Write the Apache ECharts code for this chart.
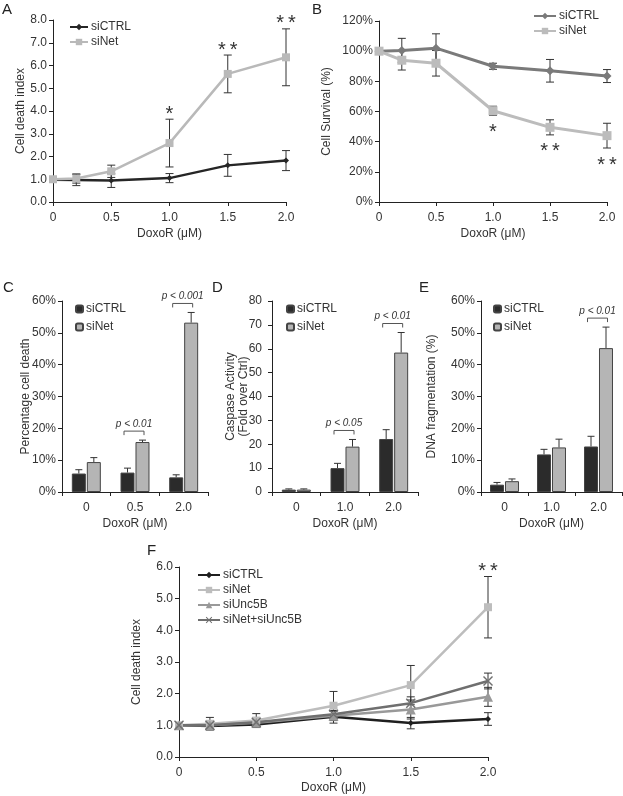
<!DOCTYPE html>
<html><head><meta charset="utf-8">
<script src="https://cdn.jsdelivr.net/npm/echarts@6/dist/echarts.min.js"></script>
<style>html,body{margin:0;padding:0;background:#fff}#c{width:623px;height:796px}</style>
</head><body><div id="c"></div>
<script>
// ---------------- data ----------------
const doseLine = [0, 0.2, 0.5, 1.0, 1.5, 2.0];

// Panel A: cell death index
const aCtrl = [0.98, 0.97, 0.94, 1.05, 1.61, 1.82];
const aCtrlErr = [0, 0.25, 0.3, 0.2, 0.48, 0.44];
const aNet = [1.0, 1.03, 1.35, 2.59, 5.63, 6.36];
const aNetErr = [0, 0.2, 0.27, 1.05, 0.83, 1.25];
const aStars = ['', '', '', '*', '**', '**'];

// Panel B: cell survival (%)
const bCtrl = [100, 100.5, 102, 90, 87, 83.5];
const bCtrlErr = [0, 8, 9.5, 2, 7.5, 4.3];
const bNet = [100, 94, 92, 60.5, 49.5, 44];
const bNetErr = [0, 6.5, 8.5, 3, 5, 8.2];
const bStars = ['', '', '', '*', '**', '**'];

// Panel C: percentage cell death
const cCats = ['0', '0.5', '2.0'];
const cCtrl = [5.8, 6.1, 4.6];
const cCtrlErr = [1.2, 1.4, 0.8];
const cNet = [9.4, 15.7, 53.2];
const cNetErr = [1.4, 0.6, 3.2];
const cP = ['', 'p < 0.01', 'p < 0.001'];

// Panel D: caspase activity
const dCats = ['0', '1.0', '2.0'];
const dCtrl = [1, 10, 22.2];
const dCtrlErr = [0.3, 2, 3.9];
const dNet = [1, 19, 58.4];
const dNetErr = [0.3, 3, 8.4];
const dP = ['', 'p < 0.05', 'p < 0.01'];

// Panel E: DNA fragmentation
const eCats = ['0', '1.0', '2.0'];
const eCtrl = [2.3, 11.8, 14.3];
const eCtrlErr = [0.7, 1.6, 3.2];
const eNet = [3.4, 14.0, 45.2];
const eNetErr = [0.7, 2.6, 6.6];
const eP = ['', '', 'p < 0.01'];

// Panel F: cell death index, 4 conditions
const fCtrl = [1.0, 0.98, 1.03, 1.27, 1.07, 1.2];
const fCtrlErr = [0, 0.1, 0.08, 0.2, 0.18, 0.2];
const fNet = [1.0, 1.05, 1.15, 1.62, 2.27, 4.73];
const fNetErr = [0, 0.2, 0.22, 0.45, 0.62, 0.97];
const fUnc = [1.0, 1.0, 1.08, 1.3, 1.5, 1.9];
const fUncErr = [0, 0.1, 0.12, 0.15, 0.3, 0.3];
const fBoth = [1.0, 1.0, 1.1, 1.35, 1.7, 2.4];
const fBothErr = [0, 0.1, 0.1, 0.1, 0.2, 0.25];
const fStars = ['', '', '', '', '', '**'];

// ---------------- helpers ----------------
const FONT = '"Liberation Sans", Arial, sans-serif';
const TXT = '#333';
const ERR = '#333';

function pairs(xs, ys) { return xs.map((x, i) => [x, ys[i]]); }

function lineSeries(idx, name, ys, color, symbol, size, width) {
  return {
    type: 'line', name: name, xAxisIndex: idx, yAxisIndex: idx, z: 3,
    data: pairs(doseLine, ys), symbol: symbol, symbolSize: size,
    lineStyle: { color: color, width: width || 2.5 },
    itemStyle: { color: color, borderColor: color, borderWidth: 0 },
    emphasis: { disabled: true }, animation: false
  };
}

function lineErr(idx, ys, es) {
  return {
    type: 'custom', xAxisIndex: idx, yAxisIndex: idx, z: 2, silent: true, animation: false,
    data: doseLine.map((x, i) => [x, ys[i], es[i]]),
    renderItem(params, api) {
      const x = api.value(0), y = api.value(1), e = api.value(2);
      if (!e) return null;
      const p1 = api.coord([x, y + e]), p2 = api.coord([x, y - e]), w = 4;
      const st = { stroke: ERR, lineWidth: 1 };
      return { type: 'group', children: [
        { type: 'line', shape: { x1: p1[0], y1: p1[1], x2: p2[0], y2: p2[1] }, style: st },
        { type: 'line', shape: { x1: p1[0] - w, y1: p1[1], x2: p1[0] + w, y2: p1[1] }, style: st },
        { type: 'line', shape: { x1: p2[0] - w, y1: p2[1], x2: p2[0] + w, y2: p2[1] }, style: st }
      ]};
    }
  };
}

function stars(idx, ys, es, labels, dir) {
  // dir = 1 : above upper cap ; dir = -1 : below lower cap
  return {
    type: 'custom', xAxisIndex: idx, yAxisIndex: idx, z: 5, silent: true, animation: false,
    data: doseLine.map((x, i) => [x, ys[i], es[i]]),
    renderItem(params, api) {
      const t = labels[params.dataIndex];
      if (!t) return null;
      const x = api.value(0), y = api.value(1), e = api.value(2);
      const p = api.coord([x, y + dir * e]);
      const yy = dir > 0 ? p[1] + 5 : p[1] + 27;
      return { type: 'text', style: { x: p[0], y: yy, text: t.split('').join('\u2009'), fill: '#333',
        font: '20px ' + FONT, textAlign: 'center', textVerticalAlign: 'bottom' } };
    }
  };
}

function barSeries(idx, name, ys, color) {
  return {
    type: 'bar', name: name, xAxisIndex: idx, yAxisIndex: idx, z: 3, data: ys,
    barWidth: 14, barGap: '7%',
    itemStyle: { color: color, borderColor: '#444', borderWidth: 1 },
    emphasis: { disabled: true }, animation: false
  };
}

function barErr(idx, ys, es, side) {
  return {
    type: 'custom', xAxisIndex: idx, yAxisIndex: idx, z: 2, silent: true, animation: false,
    data: ys.map((y, i) => [i, y, es[i]]),
    renderItem(params, api) {
      const c = api.value(0), y = api.value(1), e = api.value(2);
      const p1 = api.coord([c, y + e]), p2 = api.coord([c, y]);
      const x = p1[0] + side * 7.5, w = 3.5;
      const st = { stroke: ERR, lineWidth: 1 };
      return { type: 'group', children: [
        { type: 'line', shape: { x1: x, y1: p1[1], x2: x, y2: p2[1] }, style: st },
        { type: 'line', shape: { x1: x - w, y1: p1[1], x2: x + w, y2: p1[1] }, style: st }
      ]};
    }
  };
}

function brackets(idx, c1, e1, c2, e2, labels) {
  return {
    type: 'custom', xAxisIndex: idx, yAxisIndex: idx, z: 5, silent: true, animation: false,
    data: c1.map((y, i) => [i, Math.max(y + e1[i], c2[i] + e2[i])]),
    renderItem(params, api) {
      const t = labels[params.dataIndex];
      if (!t) return null;
      const p = api.coord([api.value(0), api.value(1)]);
      const top = p[1] - 9, l = p[0] - 11, r = p[0] + 9;
      return { type: 'group', children: [
        { type: 'polyline', shape: { points: [[l, top + 4], [l, top], [r, top], [r, top + 4]] },
          style: { stroke: '#555', lineWidth: 1, fill: null } },
        { type: 'text', style: { x: (l + r) / 2, y: top - 2, text: t, fill: '#333',
          font: 'italic 10px ' + FONT, textAlign: 'center', textVerticalAlign: 'bottom' } }
      ]};
    }
  };
}

const axLine = { show: true, lineStyle: { color: '#222', width: 1 } };
const axTick = { show: true, length: 4, lineStyle: { color: '#222' } };
const axLab = { color: TXT, fontSize: 12, fontFamily: FONT };
const nameStyle = { color: TXT, fontSize: 12, fontFamily: FONT };

function xValAxis(idx, gap) {
  return { type: 'value', gridIndex: idx, min: 0, max: 2, interval: 0.5,
    axisLine: axLine, axisTick: axTick, splitLine: { show: false },
    axisLabel: Object.assign({ margin: 10, formatter: v => v === 0 ? '0' : v.toFixed(1) }, axLab),
    name: 'DoxoR (\u03bcM)', nameLocation: 'middle', nameGap: gap, nameTextStyle: nameStyle };
}
function xCatAxis(idx, cats) {
  return { type: 'category', gridIndex: idx, data: cats,
    axisLine: axLine, axisTick: axTick, splitLine: { show: false },
    axisLabel: Object.assign({ margin: 10 }, axLab),
    name: 'DoxoR (\u03bcM)', nameLocation: 'middle', nameGap: 26, nameTextStyle: nameStyle };
}
function yAxis(idx, max, interval, fmt, name, gap, margin) {
  return { type: 'value', gridIndex: idx, min: 0, max: max, interval: interval,
    axisLine: axLine, axisTick: axTick, splitLine: { show: false },
    axisLabel: Object.assign({ margin: margin || 6, formatter: fmt }, axLab),
    nameMoveOverlap: false,
    name: name, nameLocation: 'middle', nameGap: gap, nameTextStyle: Object.assign({ lineHeight: 13 }, nameStyle) };
}
const f1 = v => v.toFixed(1);
const fPct = v => v + '%';
const fInt = v => String(v);

function legend(left, top, names, iw, ih, gap) {
  return { left: left, top: top, orient: 'vertical', itemWidth: iw, itemHeight: ih, itemGap: gap,
    padding: 0, data: names, selectedMode: false,
    formatter: n => n.split(':')[1],
    textStyle: { color: TXT, fontSize: 12, fontFamily: FONT, padding: [0, 0, 0, -2] } };
}

const option = {
  backgroundColor: '#fff',
  animation: false,
  textStyle: { fontFamily: FONT },
  grid: [
    { left: 53, top: 20, width: 233, height: 182 },   // A
    { left: 379, top: 21, width: 228, height: 181 },  // B
    { left: 62, top: 301, width: 146, height: 191 },  // C
    { left: 272, top: 301, width: 146, height: 191 }, // D
    { left: 481, top: 301, width: 141, height: 191 }, // E
    { left: 179, top: 567, width: 309, height: 190 }  // F
  ],
  xAxis: [
    xValAxis(0, 26), xValAxis(1, 26),
    xCatAxis(2, cCats), xCatAxis(3, dCats), xCatAxis(4, eCats),
    xValAxis(5, 25)
  ],
  yAxis: [
    yAxis(0, 8, 1, f1, 'Cell death index', 26),
    yAxis(1, 120, 20, fPct, 'Cell Survival (%)', 46),
    yAxis(2, 60, 10, fPct, 'Percentage cell death', 30),
    yAxis(3, 80, 10, fInt, 'Caspase Activity\n(Fold over Ctrl)', 22, 10),
    yAxis(4, 60, 10, fPct, 'DNA fragmentation (%)', 43),
    yAxis(5, 6, 1, f1, 'Cell death index', 36)
  ],
  legend: [
    legend(69, 21, ['A:siCTRL', 'A:siNet'], 18, 8, 3),
    legend(533, 10, ['B:siCTRL', 'B:siNet'], 22, 8, 3),
    legend(75, 303, ['C:siCTRL', 'C:siNet'], 7, 7, 6),
    legend(286, 303, ['D:siCTRL', 'D:siNet'], 7, 7, 6),
    legend(493, 303, ['E:siCTRL', 'E:siNet'], 7, 7, 6),
    legend(197, 569, ['F:siCTRL', 'F:siNet', 'F:siUnc5B', 'F:siNet+siUnc5B'], 22, 8, 3)
  ],
  graphic: [
    { type: 'text', left: 2, top: 2, style: { text: 'A', font: '15px ' + FONT, fill: '#222' } },
    { type: 'text', left: 312, top: 2, style: { text: 'B', font: '15px ' + FONT, fill: '#222' } },
    { type: 'text', left: 3, top: 280, style: { text: 'C', font: '15px ' + FONT, fill: '#222' } },
    { type: 'text', left: 212, top: 280, style: { text: 'D', font: '15px ' + FONT, fill: '#222' } },
    { type: 'text', left: 419, top: 280, style: { text: 'E', font: '15px ' + FONT, fill: '#222' } },
    { type: 'text', left: 147, top: 543, style: { text: 'F', font: '15px ' + FONT, fill: '#222' } }
  ],
  series: [
    // A
    lineErr(0, aCtrl, aCtrlErr), lineErr(0, aNet, aNetErr),
    lineSeries(0, 'A:siCTRL', aCtrl, '#262626', 'diamond', 6, 2.5),
    lineSeries(0, 'A:siNet', aNet, '#b9b9b9', 'rect', 8, 2.5),
    stars(0, aNet, aNetErr, aStars, 1),
    // B
    lineErr(1, bCtrl, bCtrlErr), lineErr(1, bNet, bNetErr),
    lineSeries(1, 'B:siCTRL', bCtrl, '#7a7a7a', 'diamond', 9, 3),
    lineSeries(1, 'B:siNet', bNet, '#bcbcbc', 'rect', 9, 3),
    stars(1, bNet, bNetErr, bStars, -1),
    // C
    barSeries(2, 'C:siCTRL', cCtrl, '#2b2b2b'), barSeries(2, 'C:siNet', cNet, '#b5b5b5'),
    barErr(2, cCtrl, cCtrlErr, -1), barErr(2, cNet, cNetErr, 1),
    brackets(2, cCtrl, cCtrlErr, cNet, cNetErr, cP),
    // D
    barSeries(3, 'D:siCTRL', dCtrl, '#2b2b2b'), barSeries(3, 'D:siNet', dNet, '#b5b5b5'),
    barErr(3, dCtrl, dCtrlErr, -1), barErr(3, dNet, dNetErr, 1),
    brackets(3, dCtrl, dCtrlErr, dNet, dNetErr, dP),
    // E
    barSeries(4, 'E:siCTRL', eCtrl, '#2b2b2b'), barSeries(4, 'E:siNet', eNet, '#b5b5b5'),
    barErr(4, eCtrl, eCtrlErr, -1), barErr(4, eNet, eNetErr, 1),
    brackets(4, eCtrl, eCtrlErr, eNet, eNetErr, eP),
    // F
    lineErr(5, fCtrl, fCtrlErr), lineErr(5, fNet, fNetErr), lineErr(5, fUnc, fUncErr), lineErr(5, fBoth, fBothErr),
    lineSeries(5, 'F:siCTRL', fCtrl, '#1f1f1f', 'diamond', 6, 2.5),
    lineSeries(5, 'F:siNet', fNet, '#bdbdbd', 'rect', 8, 2.5),
    lineSeries(5, 'F:siUnc5B', fUnc, '#999999', 'triangle', 10, 2.5),
    lineSeries(5, 'F:siNet+siUnc5B', fBoth, '#6f6f6f',
      'path://M0,1L1,0L5,4L9,0L10,1L6,5L10,9L9,10L5,6L1,10L0,9L4,5Z', 10, 2.5),
    stars(5, fNet, fNetErr, fStars, 1)
  ]
};

const chart = echarts.init(document.getElementById('c'), null, { renderer: 'canvas' });
chart.setOption(option);
</script>
</body></html>
